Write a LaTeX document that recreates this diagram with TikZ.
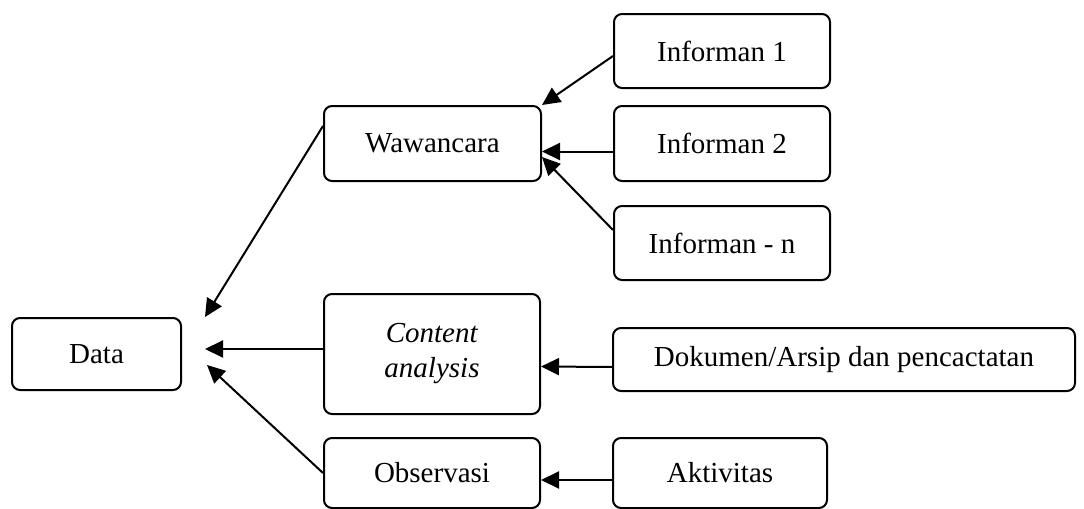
\documentclass[tikz,border=0pt]{standalone}
\usepackage{fontspec}
\setmainfont{Liberation Serif}[ItalicFont={Liberation Serif Italic}]
\usetikzlibrary{arrows.meta}
\begin{document}
\begin{tikzpicture}[x=0.5pt,y=-0.5pt,
  box/.style={draw,line width=1pt,rounded corners=4pt,inner sep=0pt,align=center,
    font=\fontsize{14.5}{17.5}\selectfont},
  arr/.style={line width=1pt,-{Triangle[length=9pt,width=8.5pt]}}]
\useasboundingbox (0,0) rectangle (1084,509);
\node[box,minimum width=84.5pt,minimum height=36pt] (data) at (96.5,354) {Data};
\node[box,minimum width=108.5pt,minimum height=37.5pt] (waw) at (432.5,143.5) {Wawancara};
\node[box,minimum width=108pt,minimum height=37pt] (i1) at (722,51) {Informan 1};
\node[box,minimum width=108pt,minimum height=37.5pt] (i2) at (722,143.5) {Informan 2};
\node[box,minimum width=108pt,minimum height=37pt] (in) at (722,243) {Informan - n};
\node[box,minimum width=108pt,minimum height=60pt] (ca) at (432,354) {\textit{Content}\\\textit{analysis}};
\node[box,minimum width=231pt,minimum height=31.5pt] (dok) at (844,359.5) {Dokumen/Arsip dan pencactatan};
\node[box,minimum width=108pt,minimum height=35pt] (obs) at (432,473) {Observasi};
\node[box,minimum width=107pt,minimum height=35pt] (akt) at (720,473) {Aktivitas};
\coordinate (t1) at (205,317);
\coordinate (t2) at (205,349);
\coordinate (t3) at (207,365);
\draw[arr] ([yshift=8.75pt]waw.west) -- (t1);
\draw[arr] ([yshift=2.5pt]ca.west) -- (t2);
\draw[arr] (obs.west) -- (t3);
\draw[arr] ([yshift=-2.5pt]i1.west) -- (waw.north east);
\draw[arr] ([yshift=-4pt]i2.west) -- ([yshift=-4pt]waw.east);
\draw[arr] ([yshift=6.5pt]in.west) -- ([yshift=-6.75pt]waw.east);
\draw[arr] ([yshift=-3.75pt]dok.west) -- ([yshift=-6.25pt]ca.east);
\draw[arr] ([yshift=-3.5pt]akt.west) -- ([yshift=-3.5pt]obs.east);
\end{tikzpicture}
\end{document}
